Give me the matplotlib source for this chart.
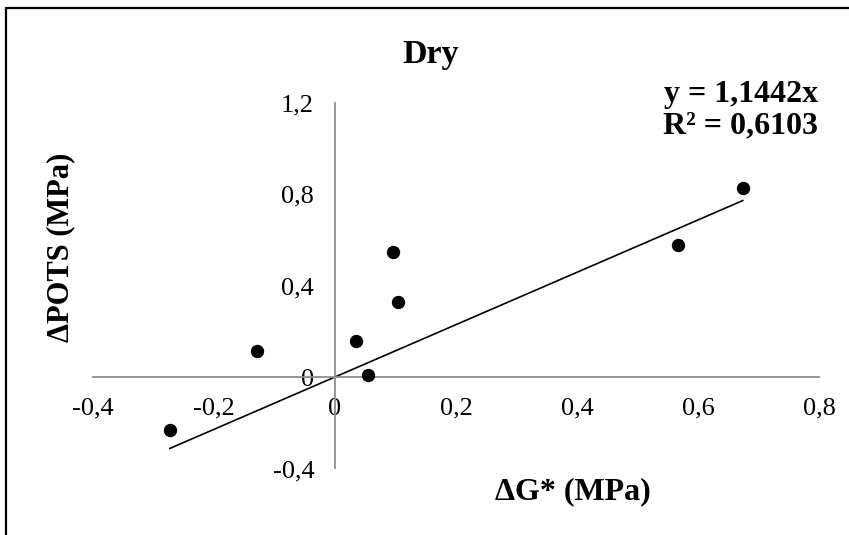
import matplotlib
matplotlib.use("Agg")
import matplotlib.pyplot as plt
from matplotlib.patches import Rectangle
from matplotlib.ticker import FuncFormatter
import numpy as np

# data (dG* vs dPOTS, MPa)
dG = [-0.273, -0.129, 0.035, 0.055, 0.096, 0.104, 0.567, 0.674]
dPOTS = [-0.232, 0.114, 0.157, 0.009, 0.546, 0.328, 0.577, 0.826]
slope = 1.1442
r2 = 0.6103
xticks = [-0.4, -0.2, 0, 0.2, 0.4, 0.6, 0.8]
yticks = [-0.4, 0, 0.4, 0.8, 1.2]

plt.rcParams['font.family'] = ['Liberation Serif', 'DejaVu Serif']

fig = plt.figure(figsize=(8.49, 5.35), dpi=100)
ax = fig.add_axes([0.1095, 0.1243, 0.8551, 0.6841])

ax.scatter(dG, dPOTS, s=74, color='black', zorder=3)
xs = np.array([min(dG), max(dG)])
ax.plot(xs, slope * xs, color='black', lw=1.2, zorder=2)

ax.set_xlim(-0.4, 0.8)
ax.set_ylim(-0.4, 1.2)
ax.set_xticks(xticks)
ax.set_yticks(yticks)

def comma(v, pos):
    s = ('%.1f' % v).replace('.', ',')
    return '0' if s in ('0,0', '-0,0') else s

ax.xaxis.set_major_formatter(FuncFormatter(comma))
ax.yaxis.set_major_formatter(FuncFormatter(comma))
ax.tick_params(length=0, labelsize=19, pad=15)

for side in ('top', 'right'):
    ax.spines[side].set_visible(False)
for side in ('left', 'bottom'):
    ax.spines[side].set_position(('data', 0))
    ax.spines[side].set_color('#8c8c8c')
    ax.spines[side].set_linewidth(1.3)

eq = 'y = %sx\nR² = %s' % (str(slope).replace('.', ','), str(r2).replace('.', ','))

fig.text(431/849, 1 - 54/535, 'Dry', ha='center', va='center',
         fontsize=24.5, fontweight='bold')
fig.text(818/849, 1 - 110/535, eq, ha='right', va='center',
         fontsize=23, fontweight='bold', linespacing=1.1)
fig.text(573/849, 1 - 492/535, 'ΔG* (MPa)', ha='center', va='center',
         fontsize=23, fontweight='bold')
fig.text(61/849, 1 - 247/535, 'ΔPOTS (MPa)', ha='center', va='center',
         rotation=90, fontsize=22, fontweight='bold')

# chart border
fig.patches.append(Rectangle((6/849, -0.05), 1.1, 1 - 8/535 + 0.05,
                             transform=fig.transFigure, fill=False,
                             edgecolor='black', lw=1.6))

fig.savefig('out.png', dpi=100)
